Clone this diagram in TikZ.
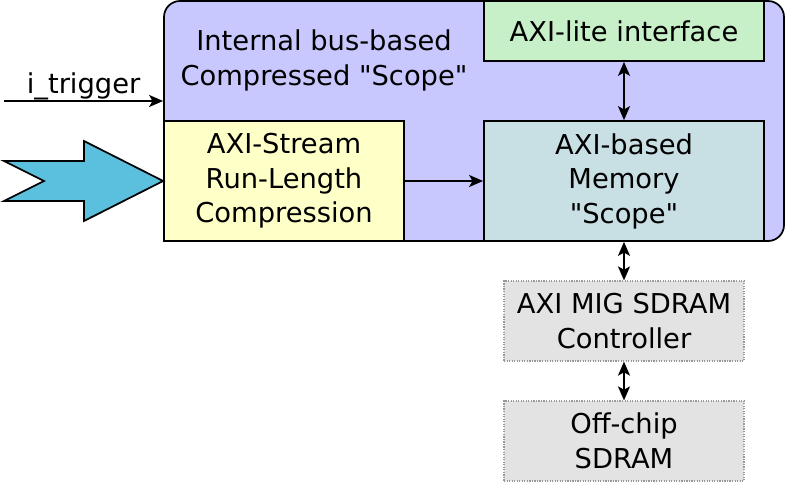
\documentclass[tikz,border=0pt]{standalone}
\usepackage{fontspec}
\setmainfont{DejaVu Sans}[Ligatures=TeXOff]
\usetikzlibrary{arrows.meta, positioning}
\definecolor{scopeblue}{RGB}{200, 200, 255}
\definecolor{litegreen}{RGB}{200, 240, 200}
\definecolor{rleyellow}{RGB}{255, 255, 200}
\definecolor{memblue}{RGB}{200, 223, 228}
\definecolor{miggray}{RGB}{227, 227, 227}
\definecolor{streamcyan}{RGB}{91, 192, 222}
\newcommand{\blockfont}{\fontsize{20.5}{25.9}\selectfont}
\tikzset{
    block/.style={rectangle, draw, line width=1.3pt, inner sep=0pt, align=center, font=\blockfont},
    offblock/.style={rectangle, draw=gray!80, densely dotted, line width=0.9pt, fill=miggray, inner sep=0pt, align=center, font=\blockfont},
    tip/.tip={Stealth[length=10.5pt, width=9pt, inset=2.5pt]}
}

\begin{document}
\begin{tikzpicture}[
    x=0.75pt, y=-0.75pt,
    arrow/.style={-tip, line width=1.3pt},
    biarrow/.style={tip-tip, line width=1.3pt}
]
    \useasboundingbox (0,0) rectangle (785,482);

    % --- SCOPE CONTAINER ---
    \node[block, fill=scopeblue, rounded corners=12pt, minimum width=465pt, minimum height=180pt] (scope) at (474,121) {};
    \node[font=\blockfont, align=center] (scopetitle) at (324,60.5) {Internal bus-based\\Compressed "Scope"};

    % --- INNER BLOCKS ---
    \node[block, fill=litegreen, minimum width=210pt, minimum height=45pt] (lite) at (624,31) {AXI-lite interface};
    \node[block, fill=rleyellow, minimum width=180pt, minimum height=90pt] (rle) at (284,181) {AXI-Stream\\Run-Length\\Compression};
    \node[block, fill=memblue, minimum width=210pt, minimum height=90pt] (mem) at (624,181) {AXI-based\\Memory\\"Scope"};

    % --- OFF-CHIP PATH ---
    \node[offblock, minimum width=180pt, minimum height=60pt] (mig) at (624,321) {AXI MIG SDRAM\\Controller};
    \node[offblock, minimum width=180pt, minimum height=60pt] (sdram) at (624,441) {Off-chip\\SDRAM};

    % --- INPUTS ---
    \coordinate (trigin) at (4,101);
    \draw[arrow] (trigin) -- (scope.west |- trigin) node[midway, above=0.5pt, inner sep=0pt, font=\blockfont] (triglabel) {i\_trigger};
    \draw[fill=streamcyan, line width=1.3pt] (4,161) -- (84,161) -- (84,141) -- (rle.west) -- (84,221) -- (84,201) -- (4,201) -- (44,181) -- cycle;

    % Connective arrows
    \draw[arrow] (rle) -- (mem);
    \draw[biarrow] (lite) -- (mem);
    \draw[biarrow] (mem) -- (mig);
    \draw[biarrow] (mig) -- (sdram);

\end{tikzpicture}
\end{document}
